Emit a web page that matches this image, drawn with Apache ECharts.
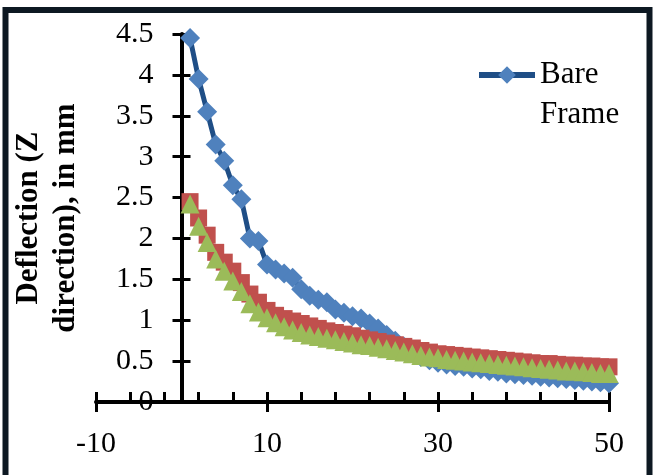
<!DOCTYPE html>
<html>
<head>
<meta charset="utf-8">
<script src="https://cdn.jsdelivr.net/npm/echarts@6/dist/echarts.min.js"></script>
<style>
  html, body { margin: 0; padding: 0; background: #fff; }
  #chart { width: 656px; height: 475px; }
</style>
</head>
<body>
<div id="chart"></div>
<script>
// x positions (same for all three series)
var xValues = [1, 2, 3, 4, 5, 6, 7, 8, 9, 10, 11, 12, 13, 14, 15, 16, 17, 18, 19, 20,
  21, 22, 23, 24, 25, 26, 27, 28, 29, 30, 31, 32, 33, 34, 35, 36, 37, 38, 39, 40,
  41, 42, 43, 44, 45, 46, 47, 48, 49, 50];

// Bare Frame (blue diamonds)
var bareFrame = [4.45, 3.95, 3.55, 3.15, 2.95, 2.65, 2.48, 2.0, 1.97, 1.68,
  1.62, 1.57, 1.52, 1.38, 1.30, 1.25, 1.22, 1.13, 1.09, 1.05,
  1.02, 0.96, 0.90, 0.82, 0.75, 0.68, 0.60, 0.55, 0.51, 0.48,
  0.46, 0.44, 0.43, 0.41, 0.40, 0.38, 0.37, 0.35, 0.34, 0.33,
  0.32, 0.31, 0.30, 0.29, 0.28, 0.27, 0.26, 0.25, 0.24, 0.23];

// second series (red squares)
var redSeries = [2.45, 2.25, 2.04, 1.83, 1.71, 1.60, 1.46, 1.32, 1.22, 1.12,
  1.06, 1.02, 0.99, 0.96, 0.93, 0.90, 0.87, 0.85, 0.83, 0.81,
  0.78, 0.76, 0.74, 0.72, 0.70, 0.68, 0.66, 0.63, 0.61, 0.59,
  0.58, 0.57, 0.56, 0.55, 0.54, 0.53, 0.52, 0.51, 0.50, 0.49,
  0.48, 0.47, 0.47, 0.46, 0.45, 0.45, 0.44, 0.44, 0.43, 0.43];

// third series (green triangles)
var greenSeries = [2.42, 2.15, 1.95, 1.75, 1.60, 1.48, 1.35, 1.20, 1.10, 1.03,
  0.97, 0.92, 0.88, 0.85, 0.82, 0.80, 0.78, 0.76, 0.74, 0.72,
  0.70, 0.69, 0.67, 0.65, 0.63, 0.61, 0.59, 0.57, 0.55, 0.54,
  0.52, 0.51, 0.50, 0.49, 0.48, 0.47, 0.46, 0.45, 0.44, 0.43,
  0.42, 0.41, 0.40, 0.39, 0.38, 0.38, 0.37, 0.36, 0.35, 0.35];

// axis ticks
var xMajorTicks = [-10, 10, 30, 50];
var xMinorTicks = [-10, -6, -2, 2, 6, 10, 14, 18, 22, 26, 30, 34, 38, 42, 46, 50];

var serif = '"Liberation Serif", "Times New Roman", serif';

function pairs(ys) {
  return xValues.map(function (x, i) { return [x, ys[i]]; });
}

var myChart = echarts.init(document.getElementById('chart'));

// y axis sits at x = 0 : grid is 513px wide for 60 units, so 0 is 85.5px right of the left edge
var yAxisShift = -85.5;

var option = {
  animation: false,
  backgroundColor: '#fff',
  grid: { left: 96, right: 47, top: 34, bottom: 73, outerBoundsMode: 'none', containLabel: false },
  legend: {
    data: ['Bare Frame'],
    left: 471,
    top: 10,
    itemWidth: 56,
    itemHeight: 22,
    lineStyle: { width: 6 },
    formatter: function () { return ' \nBare\nFrame'; },
    textStyle: { fontFamily: serif, fontSize: 31, color: '#000', lineHeight: 40 }
  },
  xAxis: [{
    type: 'value', min: -10, max: 50, position: 'bottom',
    axisLine: { show: true, onZero: false, lineStyle: { color: '#000', width: 4 } },
    axisTick: { show: true, inside: false, length: 10, customValues: xMajorTicks, lineStyle: { color: '#000', width: 3 } },
    axisLabel: { show: true, customValues: xMajorTicks, margin: 27, fontFamily: serif, fontSize: 30, color: '#000' },
    splitLine: { show: false }
  }, {
    type: 'value', min: -10, max: 50, position: 'bottom',
    axisLine: { show: false, onZero: false },
    axisTick: { show: true, inside: true, length: 10, customValues: xMinorTicks, lineStyle: { color: '#000', width: 3 } },
    axisLabel: { show: false },
    splitLine: { show: false }
  }],
  yAxis: [{
    type: 'value', min: 0, max: 4.5, interval: 0.5, position: 'left', offset: yAxisShift,
    axisLine: { show: true, onZero: false, lineStyle: { color: '#000', width: 4 } },
    axisTick: { show: true, inside: false, length: 9, lineStyle: { color: '#000', width: 3 } },
    axisLabel: { margin: 28, fontFamily: serif, fontSize: 30, color: '#000' },
    splitLine: { show: false },
    name: 'Deflection (Z\ndirection), in mm',
    nameLocation: 'middle',
    nameRotate: 90,
    nameGap: 97,
    nameMoveOverlap: false,
    nameTextStyle: { fontFamily: serif, fontSize: 31, fontWeight: 'bold', color: '#000', lineHeight: 37 }
  }, {
    type: 'value', min: 0, max: 4.5, interval: 0.5, position: 'left', offset: yAxisShift,
    axisLine: { show: false, onZero: false },
    axisTick: { show: true, inside: true, length: 9, lineStyle: { color: '#000', width: 3 } },
    axisLabel: { show: false },
    splitLine: { show: false }
  }],
  series: [{
    name: 'Bare Frame',
    type: 'line',
    data: pairs(bareFrame),
    symbol: 'diamond',
    symbolSize: 20,
    lineStyle: { color: '#1F4E86', width: 5 },
    itemStyle: { color: '#4F81BD' }
  }, {
    name: 'Series 2',
    type: 'line',
    data: pairs(redSeries),
    symbol: 'rect',
    symbolSize: 17,
    lineStyle: { color: '#BE4B48', width: 4 },
    itemStyle: { color: '#C0504D' }
  }, {
    name: 'Series 3',
    type: 'line',
    data: pairs(greenSeries),
    symbol: 'triangle',
    symbolSize: 19,
    lineStyle: { color: '#98B954', width: 4 },
    itemStyle: { color: '#9BBB59' }
  }],
  graphic: [{
    type: 'rect',
    silent: true,
    shape: { x: 5.5, y: 10, width: 644, height: 470 },
    style: { fill: 'none', stroke: '#0D1822', lineWidth: 6 }
  }]
};

myChart.setOption(option);
</script>
</body>
</html>
